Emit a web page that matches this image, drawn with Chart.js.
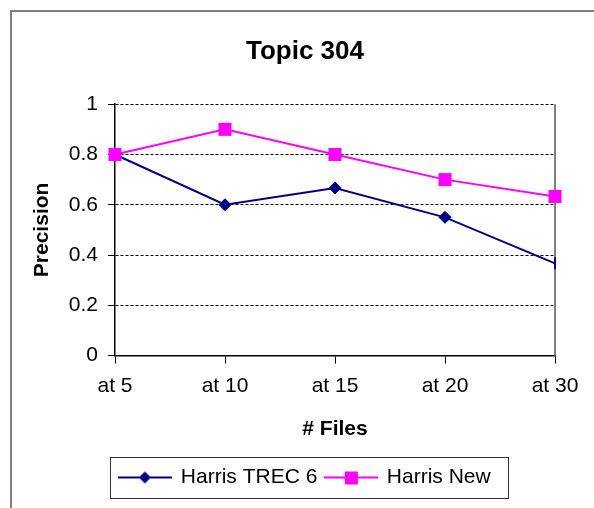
<!DOCTYPE html>
<html>
<head>
<meta charset="utf-8">
<script src="https://cdn.jsdelivr.net/npm/chart.js@4.4.1/dist/chart.umd.min.js"></script>
<style>
    html, body { margin: 0; padding: 0; background: #fff; }
    #wrap { width: 594px; height: 508px; }
</style>
</head>
<body>
<div id="wrap"><canvas id="topic-chart"></canvas></div>
<script>
// Chart data
const fileCounts = ["at 5", "at 10", "at 15", "at 20", "at 30"];
const harrisTrec6 = [0.8, 0.6, 0.667, 0.55, 0.367];
const harrisNew = [0.8, 0.9, 0.8, 0.7, 0.633];
const precisionTicks = ["0", "0.2", "0.4", "0.6", "0.8", "1"];

const NAVY = "#000080";
const MAGENTA = "#FF00FF";
const FONT = "'Liberation Sans', Arial, sans-serif";

// Small line + marker swatches for the legend
function makeSwatch(color, shape) {
    const c = document.createElement("canvas");
    c.width = 54;
    c.height = 16;
    const g = c.getContext("2d");
    g.strokeStyle = color;
    g.lineWidth = 2;
    g.beginPath();
    g.moveTo(0, 8);
    g.lineTo(54, 8);
    g.stroke();
    g.fillStyle = color;
    g.beginPath();
    if (shape === "diamond") {
        g.moveTo(27, 2); g.lineTo(33, 8); g.lineTo(27, 14); g.lineTo(21, 8);
    } else {
        g.rect(21, 2, 13, 13);
    }
    g.closePath();
    g.fill();
    return c;
}

const swatches = [makeSwatch(NAVY, "diamond"), makeSwatch(MAGENTA, "square")];

// Outer frame, plot right border and legend box
const framePlugin = {
    id: "framePlugin",
    beforeDraw(chart) {
        const ctx = chart.ctx;
        ctx.save();
        ctx.strokeStyle = "#808080";
        ctx.lineWidth = 2;
        ctx.strokeRect(11, 11, 800, 800);
        ctx.restore();
    },
    beforeDatasetsDraw(chart) {
        const ctx = chart.ctx;
        const area = chart.chartArea;
        ctx.save();
        ctx.strokeStyle = "#808080";
        ctx.lineWidth = 2;
        ctx.beginPath();
        ctx.moveTo(area.right, area.top);
        ctx.lineTo(area.right, area.bottom);
        ctx.stroke();
        ctx.restore();
    },
    afterDraw(chart) {
        const ctx = chart.ctx;
        const boxes = chart.legend.legendHitBoxes;
        if (boxes && boxes.length) {
            const first = boxes[0];
            const last = boxes[boxes.length - 1];
            const left = first.left - 9;
            const right = last.left + last.width + 18;
            const top = first.top - 10;
            const bottom = first.top + first.height + 10;
            ctx.save();
            ctx.strokeStyle = "#333";
            ctx.lineWidth = 1;
            ctx.strokeRect(Math.round(left) + 0.5, Math.round(top) + 0.5, Math.round(right - left), Math.round(bottom - top));
            ctx.restore();
        }
    }
};

const ctx = document.getElementById("topic-chart").getContext("2d");

new Chart(ctx, {
    type: "line",
    data: {
        labels: fileCounts,
        datasets: [{
            label: "Harris TREC 6",
            data: harrisTrec6,
            borderColor: NAVY,
            backgroundColor: NAVY,
            borderWidth: 2,
            pointStyle: ["rectRot", "rectRot", "rectRot", "rectRot", "line"],
            pointRotation: [0, 0, 0, 0, 90],
            pointRadius: 6,
            pointBorderWidth: [1, 1, 1, 1, 2],
            tension: 0,
            order: 1,
        }, {
            label: "Harris New",
            data: harrisNew,
            borderColor: MAGENTA,
            backgroundColor: MAGENTA,
            borderWidth: 2,
            pointStyle: "rect",
            pointRadius: 9.2,
            pointBorderWidth: 0,
            tension: 0,
            order: 0, // magenta drawn on top, as in the reference
        }],
    },
    options: {
        responsive: true,
        maintainAspectRatio: false,
        animation: false,
        clip: false,
        layout: {
            padding: { top: 0, bottom: 10, left: 16, right: 0 },
        },
        scales: {
            x: {
                offset: false,
                grid: {
                    display: true,
                    drawOnChartArea: false,
                    drawTicks: true,
                    tickLength: 8,
                    tickColor: "#000",
                    tickWidth: 1,
                },
                border: { color: "#000", width: 1.5 },
                ticks: {
                    color: "#000",
                    padding: 10,
                    maxRotation: 0,
                    autoSkip: false,
                    font: { family: FONT, size: 21 },
                },
                title: {
                    display: true,
                    text: "# Files",
                    color: "#000",
                    font: { family: FONT, size: 21, weight: "bold" },
                    padding: { top: 8, bottom: 17 },
                },
                afterFit(scale) {
                    scale.paddingRight = 39; // keep plot right edge where the reference has it
                },
            },
            y: {
                min: 0,
                max: 1,
                grid: {
                    color: "#000",
                    lineWidth: 1,
                    tickLength: 7,
                    tickColor: "#000",
                    tickBorderDash: [],
                },
                border: { color: "#000", width: 1.5, dash: [3, 2] },
                ticks: {
                    stepSize: 0.2,
                    color: "#000",
                    padding: 10,
                    font: { family: FONT, size: 21 },
                    callback: (value, index) => precisionTicks[index],
                },
                title: {
                    display: true,
                    text: "Precision",
                    color: "#000",
                    font: { family: FONT, size: 21, weight: "bold" },
                    padding: { top: 14, bottom: 0 },
                },
                afterFit(scale) {
                    scale.width = 99;
                },
            },
        },
        plugins: {
            title: {
                display: true,
                text: "Topic 304",
                color: "#000",
                font: { family: FONT, size: 26, weight: "bold" },
                padding: { top: 36, bottom: 37 },
            },
            legend: {
                display: true,
                position: "bottom",
                labels: {
                    color: "#000",
                    font: { family: FONT, size: 21 },
                    padding: 8,
                    usePointStyle: true,
                    pointStyleWidth: 51,
                    generateLabels(chart) {
                        return chart.data.datasets.map((ds, i) => ({
                            text: ds.label,
                            pointStyle: swatches[i],
                            fontColor: "#000",
                            strokeStyle: ds.borderColor,
                            fillStyle: ds.backgroundColor,
                            lineWidth: 0,
                            datasetIndex: i,
                            hidden: false,
                        }));
                    },
                },
            },
            tooltip: { enabled: false },
        },
    },
    plugins: [framePlugin],
});
</script>
</body>
</html>
